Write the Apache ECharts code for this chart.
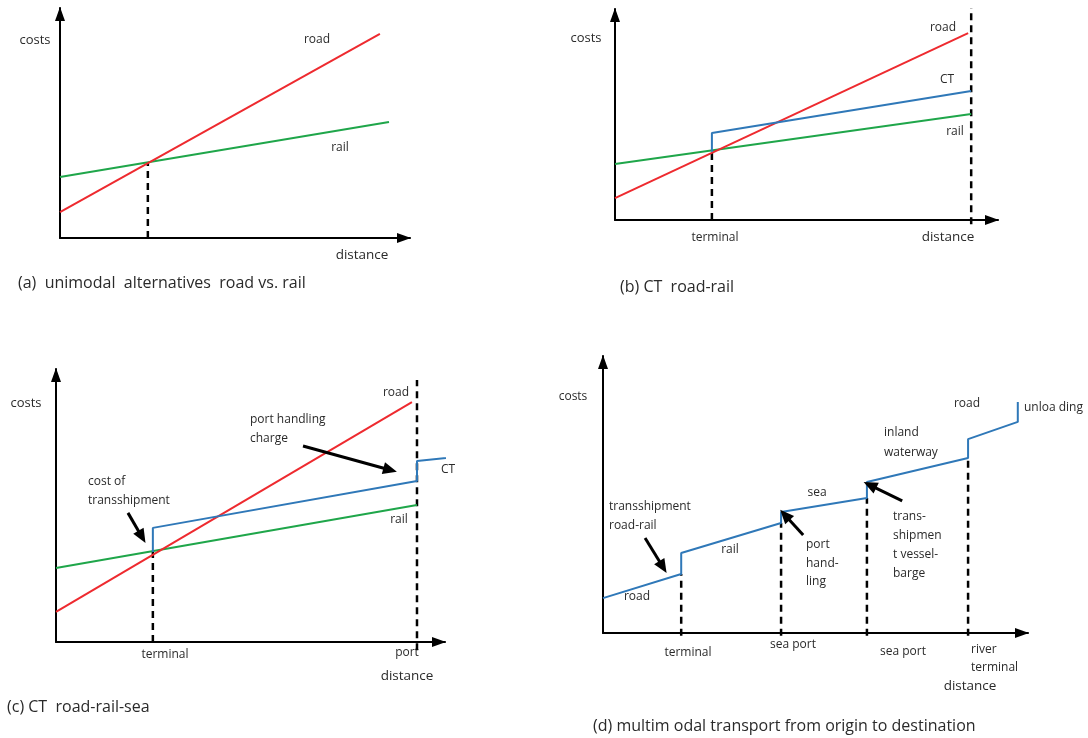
<!DOCTYPE html>
<html>
<head>
<meta charset="utf-8">
<script src="https://cdn.jsdelivr.net/npm/echarts@6/dist/echarts.min.js"></script>
<style>
  html, body { margin: 0; padding: 0; background: #fff; }
  #main { width: 1088px; height: 738px; }
</style>
</head>
<body>
<div id="main"></div>
<script>
// all values on a 0..100 scale for distance (x) and costs (y)

// (a) unimodal alternatives
var aRoad = [[0, 11.3], [91.4, 88.7]];
var aRail = [[0, 26.5], [94, 50.4]];
var aTerminal = [[25.1, 0], [25.1, 33]];

// (b) CT road-rail
var bRoad = [[0, 10.4], [92.2, 88.6]];
var bRail = [[0, 26.5], [93, 50.2]];
var bCT = [[25.3, 32.4], [25.3, 41.2], [93, 61.1]];
var bTerminal = [[25.3, 0], [25.3, 32.4]];
var bEnd = [[93, -2], [93, 100.5]];

// (c) CT road-rail-sea
var cRoad = [[0, 11], [91.5, 87.9]];
var cRail = [[0, 27.1], [92.8, 50.2]];
var cCT = [[24.9, 33], [24.9, 41.8], [92.8, 59], [92.8, 66.3], [107.7, 68.5]];
var cTerminal = [[24.9, 0], [24.9, 33]];
var cPort = [[92.8, -3], [92.8, 96]];
var cArrows = [
    [[63.5, 71.8], [85.9, 63]],   // port handling charge
    [[18.5, 47.3], [22.1, 38.5]]  // cost of transshipment
];

// (d) multimodal transport
var dCost = [[0, 12.6], [18.4, 21.3], [18.4, 28.9], [41.9, 39.7], [41.9, 43.7],
    [62.1, 48.7], [62.1, 54.5], [85.9, 63.2], [85.9, 70], [97.6, 76.2], [97.6, 83.4]];
var dStops = [[18.4, 21.3], [41.9, 39.7], [62.1, 48.7], [85.9, 63.2]];
var dArrows = [
    [[9.9, 34.3], [14.1, 23.8]],   // transshipment road-rail
    [[47.1, 35.4], [42.8, 42.6]],  // port handling
    [[70.4, 47.7], [62.8, 53.4]]   // trans-shipment vessel-barge
];

var RED = '#ee2a2f';
var GREEN = '#1fa64a';
var BLUE = '#2f78b8';
var FONT = 'Open Sans';

var grids = [
    { left: 60, top: 8, width: 350, height: 230 },
    { left: 615, top: 9, width: 383, height: 211 },
    { left: 56, top: 369, width: 389, height: 273 },
    { left: 603, top: 356, width: 425, height: 277 }
];

function axis(i) {
    return {
        type: 'value', gridIndex: i, min: 0, max: 100,
        axisLine: {
            show: true, onZero: false,
            symbol: ['none', 'triangle'], symbolSize: [10, 14], symbolOffset: [0, -6],
            lineStyle: { color: '#000', width: 2 }
        },
        axisTick: { show: false }, axisLabel: { show: false }, splitLine: { show: false }
    };
}

function line(i, data, color) {
    return {
        type: 'line', xAxisIndex: i, yAxisIndex: i, data: data,
        showSymbol: false, clip: false, silent: true,
        lineStyle: { color: color, width: 2 }
    };
}

function dashed(i, data) {
    return {
        type: 'line', xAxisIndex: i, yAxisIndex: i, data: data,
        showSymbol: false, clip: false, silent: true,
        lineStyle: { color: '#000', width: 2.5, type: [7, 5] }
    };
}

function arrows(i, list) {
    return {
        type: 'line', xAxisIndex: i, yAxisIndex: i, data: [], silent: true,
        markLine: {
            silent: true, animation: false,
            symbol: ['none', 'triangle'], symbolSize: [12, 14],
            label: { show: false },
            lineStyle: { color: '#000', width: 3, type: 'solid' },
            data: list.map(function(a) {
                return [{ coord: a[0] }, { coord: a[1] }];
            })
        }
    };
}

function txt(t, x, y, align, size) {
    return {
        type: 'text', x: x, y: y, silent: true,
        style: {
            text: t, fill: '#2a2a2a', fontFamily: FONT, fontSize: size || 12,
            align: align || 'center', verticalAlign: 'middle'
        }
    };
}

var texts = [
    // (a)
    txt('costs', 35, 40, 'center', 13), txt('road', 317, 40), txt('rail', 340, 148),
    txt('distance', 362, 255, 'center', 13.5),
    txt('(a)  unimodal  alternatives  road vs. rail', 18, 283, 'left', 16),
    // (b)
    txt('costs', 586, 38, 'center', 13), txt('road', 943, 28), txt('CT', 947, 80), txt('rail', 955, 132),
    txt('terminal', 715, 238), txt('distance', 948, 237, 'center', 13.5),
    txt('(b) CT  road-rail', 620, 287, 'left', 16),
    // (c)
    txt('costs', 26, 403, 'center', 13), txt('road', 396, 393),
    txt('port handling', 250, 420, 'left'), txt('charge', 250, 439, 'left'),
    txt('CT', 448, 470),
    txt('cost of', 88, 482, 'left'), txt('transshipment', 88, 501, 'left'),
    txt('rail', 399, 520), txt('terminal', 165, 655), txt('port', 407, 653),
    txt('distance', 407, 676, 'center', 13.5),
    txt('(c) CT  road-rail-sea', 7, 707, 'left', 16),
    // (d)
    txt('costs', 573, 397),
    txt('transshipment', 609, 507, 'left'), txt('road-rail', 609, 526, 'left'),
    txt('road', 637, 597), txt('rail', 730, 550), txt('sea', 817, 493),
    txt('port', 806, 545, 'left'), txt('hand-', 806, 564, 'left'), txt('ling', 806, 582, 'left'),
    txt('trans-', 893, 517, 'left'), txt('shipmen', 893, 536, 'left'),
    txt('t vessel-', 893, 555, 'left'), txt('barge', 893, 574, 'left'),
    txt('inland', 884, 433, 'left'), txt('waterway', 884, 453, 'left'),
    txt('road', 967, 404), txt('unloa ding', 1024, 408, 'left'),
    txt('terminal', 688, 653), txt('sea port', 793, 645), txt('sea port', 903, 652),
    txt('river', 971, 650, 'left'), txt('terminal', 971, 668, 'left'),
    txt('distance', 970, 686, 'center', 13.5),
    txt('(d) multim odal transport from origin to destination', 593, 726, 'left', 16)
];

var series = [
    dashed(0, aTerminal), line(0, aRail, GREEN), line(0, aRoad, RED),
    dashed(1, bTerminal), dashed(1, bEnd), line(1, bRail, GREEN), line(1, bRoad, RED), line(1, bCT, BLUE),
    dashed(2, cTerminal), dashed(2, cPort), line(2, cRail, GREEN), line(2, cRoad, RED), line(2, cCT, BLUE),
    arrows(2, cArrows),
    line(3, dCost, BLUE), arrows(3, dArrows)
];
dStops.forEach(function(p) {
    series.unshift(dashed(3, [[p[0], -1], p]));
});

var chart = echarts.init(document.getElementById('main'));
chart.setOption({
    animation: false,
    backgroundColor: '#fff',
    grid: grids,
    xAxis: [axis(0), axis(1), axis(2), axis(3)],
    yAxis: [axis(0), axis(1), axis(2), axis(3)],
    graphic: texts,
    series: series
});
</script>
</body>
</html>
